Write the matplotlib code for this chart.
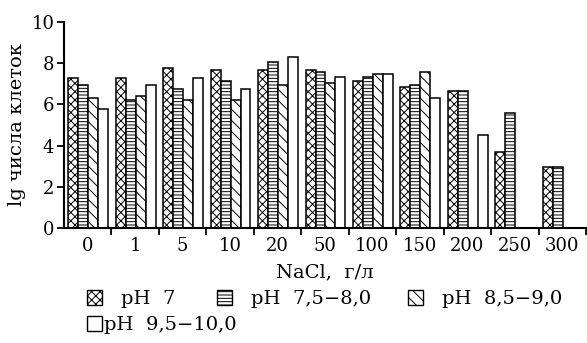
import numpy as np
import matplotlib
matplotlib.use("Agg")
import matplotlib.pyplot as plt
from matplotlib.patches import Patch

categories = ["0", "1", "5", "10", "20", "50", "100", "150", "200", "250", "300"]
ph7 = [7.26, 7.26, 7.77, 7.68, 7.66, 7.68, 7.15, 6.82, 6.63, 3.69, 2.97]
ph75 = [6.94, 6.21, 6.73, 7.15, 8.06, 7.56, 7.34, 6.94, 6.63, 5.56, 2.97]
ph85 = [6.29, 6.40, 6.21, 6.19, 6.94, 7.05, 7.47, 7.56, np.nan, np.nan, np.nan]
ph95 = [5.77, 6.94, 7.26, 6.73, 8.29, 7.34, 7.47, 6.31, 4.53, np.nan, np.nan]
series = [ph7, ph75, ph85, ph95]
labels = ["pH  7", "pH  7,5\u22128,0", "pH  8,5\u22129,0", "pH  9,5\u221210,0"]
hatches = ["xxxx", "-----", "\\\\\\", ""]

plt.rcParams['font.family'] = ['DejaVu Serif']
plt.rcParams['hatch.linewidth'] = 0.7

W, H = 587, 343
fig = plt.figure(figsize=(W / 100, H / 100), dpi=100)
ax = fig.add_axes([64 / W, 1 - 228.3 / H, (586 - 64) / W, (228.3 - 21.7) / H])

x = np.arange(len(categories))
w = 0.21
for k, (vals, h) in enumerate(zip(series, hatches)):
    ax.bar(x + (k - 1.5) * w + 0.01, vals, width=w, facecolor="white",
           edgecolor="black", linewidth=1.1, hatch=h)

ax.set_xlim(-0.5, len(categories) - 0.5)
ax.set_ylim(0, 10)
ax.set_yticks([0, 2, 4, 6, 8, 10])
ax.set_xticks(x)
ax.set_xticklabels(categories)
ax.set_xticks(np.arange(len(categories)) + 0.5, minor=True)
ax.tick_params(axis='x', which='major', length=0, labelsize=13, pad=6)
ax.tick_params(axis='x', which='minor', length=5, width=1.3, direction='out')
ax.tick_params(axis='y', length=5, width=1.3, labelsize=13, pad=2)
for s in ["top", "right"]:
    ax.spines[s].set_visible(False)
for s in ["left", "bottom"]:
    ax.spines[s].set_linewidth(1.5)

ax.set_xlabel("NaCl,  г/л", fontsize=14, labelpad=6)
ax.set_ylabel("lg числа клеток", fontsize=14, labelpad=4)

# legend entries: (handle index, left x px, centre y px, text pad)
legend_pos = [(0, 86.7, 299, 1.0), (1, 216.7, 299, 1.0), (2, 408, 299, 1.0), (3, 86.7, 325, 0.12)]
fs = 14
hsize = 15 / (fs * 100 / 72)
for idx, lx, cy, pad in legend_pos:
    hnd = Patch(facecolor="white", edgecolor="black", hatch=hatches[idx],
                linewidth=1.0, label=labels[idx])
    fig.legend([hnd], [labels[idx]], loc="center left",
               bbox_to_anchor=(lx / W, 1 - cy / H), frameon=False, fontsize=fs,
               handlelength=hsize, handleheight=hsize, handletextpad=pad,
               borderaxespad=0, borderpad=0)

fig.savefig("out.png", dpi=100)
